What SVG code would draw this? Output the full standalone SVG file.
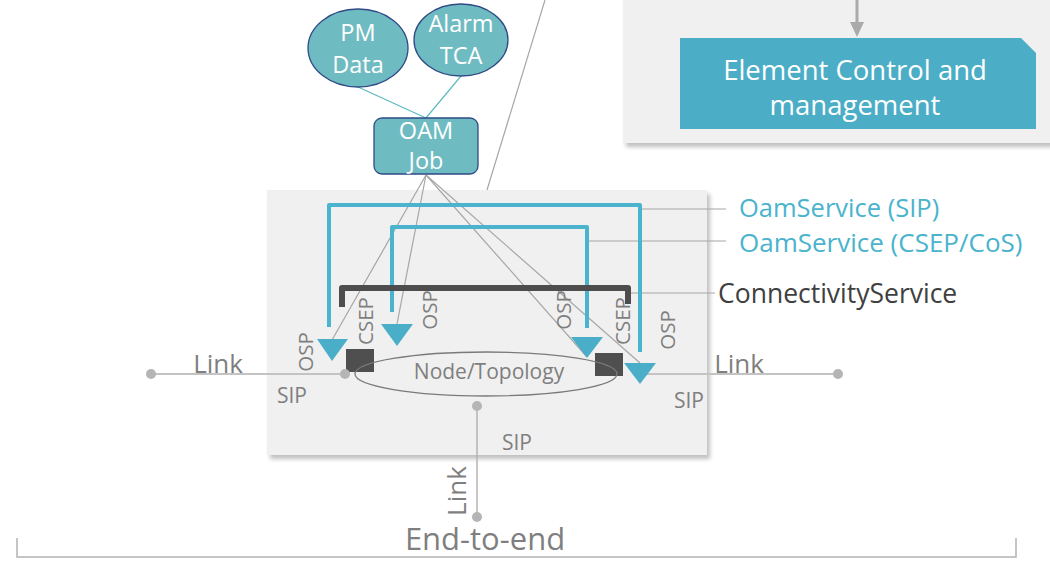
<svg xmlns="http://www.w3.org/2000/svg" width="1050" height="562" viewBox="0 0 1050 562">
<defs>
<filter id="sh" x="-5%" y="-5%" width="115%" height="120%">
<feGaussianBlur in="SourceAlpha" stdDeviation="2"/>
<feOffset dx="3" dy="4"/>
<feComponentTransfer><feFuncA type="linear" slope="0.25"/></feComponentTransfer>
<feMerge><feMergeNode/><feMergeNode in="SourceGraphic"/></feMerge>
</filter>
</defs>
<style>
.t{font-family:"Open Sans","DejaVu Sans",sans-serif}
.g{fill:#7f7f7f}
.w{fill:#ffffff}
.lbl{font-size:21px}
.rot{font-size:20.5px}
.oam{fill:#6fbbc2;stroke:#2f4a85;stroke-width:1.3}
.teal{stroke:#5db9c2;stroke-width:1.2;fill:none}
.thin{stroke:#a6a6a6;stroke-width:1.2;fill:none}
.blue{stroke:#4ab3cd;stroke-width:4;fill:none;stroke-linejoin:round}
.dark{stroke:#4d4d4d;stroke-width:6;fill:none;stroke-linejoin:round}
.tri{fill:#4aaec8}
.sq{fill:#4f4f4f}
.link{stroke:#c3c3c3;stroke-width:2;fill:none}
.dot{fill:#b5b5b5}
</style>

<g id="top-panel">
<rect x="623" y="-10" width="440" height="153" fill="#f0f0f0" filter="url(#sh)"/>
<line x1="857" y1="0" x2="857" y2="24" stroke="#aaaaaa" stroke-width="3"/>
<polygon points="850,22 864,22 857,37" fill="#aaaaaa"/>
</g>

<g id="element-control">
<polygon points="680,38 1021,38 1036,53 1036,129 680,129" fill="#4badc6"/>
<text class="t w" x="855" y="80" font-size="27.5" text-anchor="middle">Element Control and</text>
<text class="t w" x="855" y="115" font-size="27.5" text-anchor="middle">management</text>
</g>

<g id="container">
<rect x="267" y="190" width="440" height="265" fill="#f0f0f0" filter="url(#sh)"/>
</g>

<g id="connectors">
<line x1="545" y1="0" x2="487" y2="190" class="thin"/>
<line x1="358" y1="87" x2="426" y2="118" class="teal"/>
<line x1="461" y1="76" x2="426" y2="118" class="teal"/>
<line x1="426" y1="175" x2="332" y2="340" class="thin"/>
<line x1="426" y1="175" x2="397" y2="324" class="thin"/>
<line x1="426" y1="175" x2="587" y2="357" class="thin"/>
<line x1="426" y1="175" x2="640" y2="363" class="thin"/>
<line x1="640" y1="209" x2="726" y2="209" class="thin"/>
<line x1="587" y1="241" x2="726" y2="241" class="thin"/>
<line x1="628" y1="293" x2="715" y2="293" class="thin"/>
<line x1="151" y1="374" x2="345" y2="374" class="link"/>
<line x1="640" y1="374" x2="838" y2="374" class="link"/>
<line x1="477" y1="406" x2="477" y2="517" stroke="#b5b5b5" stroke-width="1.5"/>
<path d="M17,538 V557 H1016 V538" stroke="#b3b3b3" stroke-width="1.5" fill="none"/>
</g>

<g id="pm-data">
<ellipse class="oam" cx="358" cy="48" rx="50" ry="39"/>
<text class="t w" x="358" y="41" font-size="23.5" text-anchor="middle">PM</text>
<text class="t w" x="358" y="73" font-size="23.5" text-anchor="middle">Data</text>
</g>

<g id="alarm-tca">
<ellipse class="oam" cx="461" cy="40" rx="47" ry="36"/>
<text class="t w" x="461" y="32" font-size="23.5" text-anchor="middle">Alarm</text>
<text class="t w" x="461" y="64" font-size="23.5" text-anchor="middle">TCA</text>
</g>

<g id="oam-job">
<rect class="oam" x="374" y="118" width="104" height="56" rx="8"/>
<text class="t w" x="426" y="139" font-size="23.5" text-anchor="middle">OAM</text>
<text class="t w" x="426" y="169" font-size="23.5" text-anchor="middle">Job</text>
</g>

<g id="oam-service-sip">
<path class="blue" d="M329,327 V205 H640 V352"/>
<text class="t" x="739" y="217" font-size="25.5" fill="#4ab3cd">OamService (SIP)</text>
</g>

<g id="oam-service-csep">
<path class="blue" d="M392,312 V227 H587 V328"/>
<text class="t" x="739" y="252" font-size="26" fill="#4ab3cd">OamService (CSEP/CoS)</text>
</g>

<g id="connectivity-service">
<path class="dark" d="M342,307 V288 H628 V304"/>
<text class="t" x="718" y="303" font-size="26.5" fill="#404040">ConnectivityService</text>
</g>

<g id="endpoints">
<polygon class="tri" points="317,339 348,339 332,361"/>
<polygon class="tri" points="381,324 413,324 397,346"/>
<polygon class="tri" points="571,337 603,337 587,358"/>
<polygon class="tri" points="624,363 656,363 640,384"/>
<rect class="sq" x="346" y="349" width="28" height="23"/>
<rect class="sq" x="595" y="353" width="28" height="23"/>
<text class="t g rot" transform="translate(313,352) rotate(-90)" text-anchor="middle">OSP</text>
<text class="t g rot" transform="translate(373,321) rotate(-90)" text-anchor="middle">CSEP</text>
<text class="t g rot" transform="translate(437,310) rotate(-90)" text-anchor="middle">OSP</text>
<text class="t g rot" transform="translate(571,310) rotate(-90)" text-anchor="middle">OSP</text>
<text class="t g rot" transform="translate(630,321) rotate(-90)" text-anchor="middle">CSEP</text>
<text class="t g rot" transform="translate(675,330) rotate(-90)" text-anchor="middle">OSP</text>
</g>

<g id="node-topology">
<ellipse cx="486" cy="374" rx="131" ry="22" fill="none" stroke="#7a7a7a" stroke-width="1.3"/>
<text class="t g" x="489" y="379" font-size="21" text-anchor="middle">Node/Topology</text>
</g>

<g id="links">
<circle class="dot" cx="151" cy="374" r="5"/>
<circle class="dot" cx="345" cy="374" r="5"/>
<circle class="dot" cx="838" cy="374" r="5"/>
<circle class="dot" cx="477" cy="406" r="5"/>
<circle class="dot" cx="477" cy="517" r="5"/>
<text class="t g" x="218" y="373" font-size="26" text-anchor="middle">Link</text>
<text class="t g" x="739" y="373" font-size="26" text-anchor="middle">Link</text>
<text class="t g" transform="translate(466,491) rotate(-90)" font-size="26" text-anchor="middle">Link</text>
<text class="t g lbl" x="292" y="403" text-anchor="middle">SIP</text>
<text class="t g lbl" x="689" y="408" text-anchor="middle">SIP</text>
<text class="t g lbl" x="517" y="450" text-anchor="middle">SIP</text>
</g>

<g id="end-to-end">
<text class="t g" x="485" y="550" font-size="31" text-anchor="middle">End-to-end</text>
</g>
</svg>
